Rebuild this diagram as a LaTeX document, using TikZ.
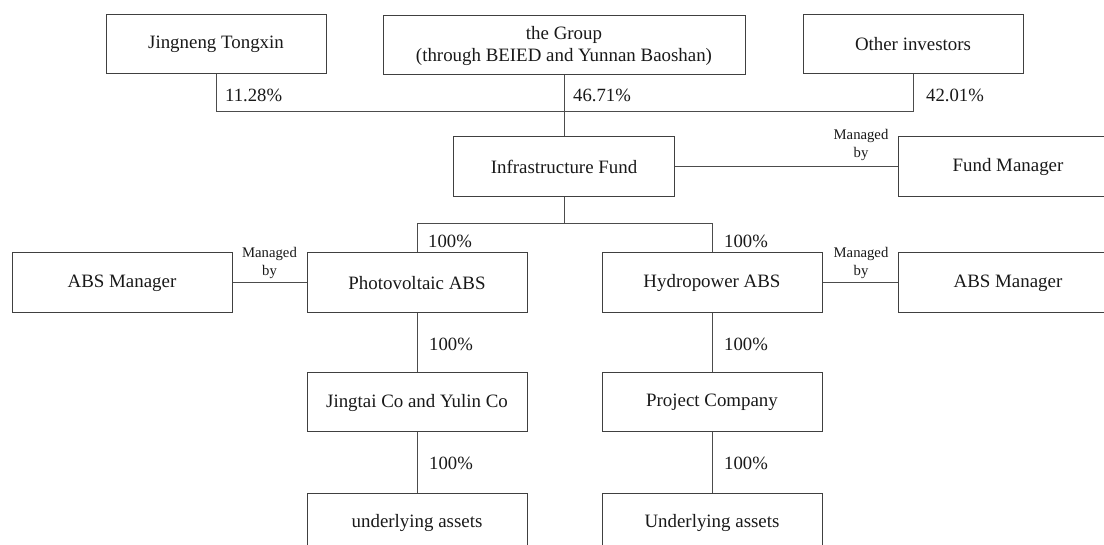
\documentclass[tikz,border=0pt]{standalone}
\usepackage{fontspec}
\setmainfont{Liberation Serif}
\begin{document}
\begin{tikzpicture}[x=1pt,y=-1pt,
  box/.style={draw=black!75, line width=1pt, rectangle, minimum width=220pt, minimum height=59pt, inner sep=0pt, align=center, text=black!90, font=\fontsize{18.9}{22}\selectfont},
  conn/.style={draw=black!70, line width=1pt},
  pct/.style={anchor=base west, inner sep=0pt, text=black!90, font=\fontsize{18.7}{22}\selectfont},
  mgd/.style={align=center, inner sep=0pt, text=black!90, font=\fontsize{14.7}{18.5}\selectfont}]
\useasboundingbox (0,0) rectangle (1104,545);
\clip (0,0) rectangle (1104,545);
% top row
\node[box] (jt) at (216,44.5) {Jingneng Tongxin};
\node[box, minimum width=362pt] (grp) at (564,45.5) {the Group\\(through BEIED and Yunnan Baoshan)};
\node[box] (oth) at (913,44.5) {Other investors};
% fund row
\node[box, minimum width=221pt, minimum height=60pt] (fund) at (564,167) {Infrastructure Fund};
\node[box, minimum height=60pt] (fm) at (1008,167) {Fund Manager};
% ABS row
\node[box, minimum height=60pt] (absL) at (122,283) {ABS Manager};
\node[box, minimum height=60pt] (pv) at (417,283) {Photovoltaic ABS};
\node[box, minimum height=60pt] (hy) at (712,283) {Hydropower ABS};
\node[box, minimum height=60pt] (absR) at (1008,283) {ABS Manager};
% company row
\node[box] (jy) at (417,402.5) {Jingtai Co and Yulin Co};
\node[box] (pc) at (712,402.5) {Project Company};
% assets row
\node[box, minimum height=60pt] (ua) at (417,523) {underlying assets};
\node[box, minimum height=60pt] (UA) at (712,523) {Underlying assets};
% bus coordinates
\coordinate (bus) at (564,112);
\coordinate (br) at (564,224);
% connectors top
\draw[conn] (jt.south) -- (jt.south |- bus) -- (oth.south |- bus) -- (oth.south);
\draw[conn] (grp.south) -- (fund.north);
\draw[conn] (fund.east) -- (fm.west);
% branch
\draw[conn] (fund.south) -- (br);
\draw[conn] (pv.north) -- (pv.north |- br) -- (hy.north |- br) -- (hy.north);
\draw[conn] (absL.east) -- (pv.west);
\draw[conn] (hy.east) -- (absR.west);
\draw[conn] (pv.south) -- (jy.north);
\draw[conn] (jy.south) -- (ua.north);
\draw[conn] (hy.south) -- (pc.north);
\draw[conn] (pc.south) -- (UA.north);
% labels
\node[pct] (p1) at (225,102) {11.28\%};
\node[pct] (p2) at (573,102) {46.71\%};
\node[pct] (p3) at (926,102) {42.01\%};
\node[pct] (p4) at (428,248) {100\%};
\node[pct] (p5) at (724,248) {100\%};
\node[pct] (p6) at (429,351) {100\%};
\node[pct] (p7) at (724,351) {100\%};
\node[pct] (p8) at (429,469.5) {100\%};
\node[pct] (p9) at (724,469.5) {100\%};
\node[mgd] (m1) at (861,145) {Managed\\by};
\node[mgd] (m2) at (269.5,263) {Managed\\by};
\node[mgd] (m3) at (861,263) {Managed\\by};
\end{tikzpicture}
\end{document}
